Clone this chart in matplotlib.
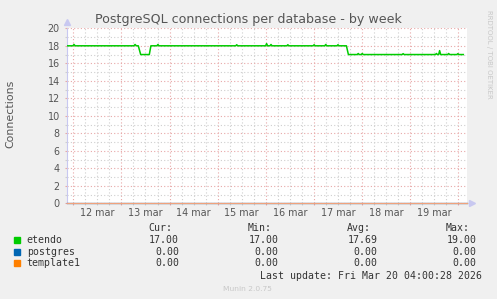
import matplotlib
matplotlib.use('Agg')
import matplotlib.pyplot as plt
from matplotlib.patches import Rectangle
from matplotlib.ticker import FixedLocator, FuncFormatter

# hours since 12 mar 00:00
etendo_t = [-3.3, -0.2, 0.35, 0.9, 30.2, 30.8, 31.4, 32.4, 33.6, 37.9, 38.7, 41.7, 42.2, 42.7,
            81.0, 81.5, 82.0, 95.9, 96.4, 96.9, 98.1, 98.6, 99.1, 106.5, 107.0, 107.5,
            119.6, 120.1, 120.6, 125.4, 125.9, 126.4, 131.5, 132.0, 132.5, 136.2, 137.2,
            141.6, 142.1, 142.6, 143.6, 144.1, 144.6, 164.0, 164.5, 165.0, 180.6, 181.1, 181.6,
            182.2, 182.7, 183.2, 186.7, 187.2, 187.7, 191.3, 191.8, 192.3, 194.5]
etendo_v = [18.0, 18.0, 18.15, 18.0, 18.0, 18.15, 18.0, 18.0, 17.0, 17.0, 18.0, 18.0, 18.15, 18.0,
            18.0, 18.12, 18.0, 18.0, 18.25, 18.0, 18.0, 18.15, 18.0, 18.0, 18.12, 18.0,
            18.0, 18.12, 18.0, 18.0, 18.15, 18.0, 18.0, 18.12, 18.0, 18.0, 17.0,
            17.0, 17.12, 17.0, 17.0, 17.12, 17.0, 17.0, 17.1, 17.0, 17.0, 17.12, 17.0,
            17.0, 17.45, 17.0, 17.0, 17.12, 17.0, 17.0, 17.1, 17.0, 17.0]
zero_t = [-3.3, 196.2]
zero_v = [0.0, 0.0]

day_labels = ['12 mar', '13 mar', '14 mar', '15 mar', '16 mar', '17 mar', '18 mar', '19 mar']

names = ['etendo', 'postgres', 'template1']
colors = ['#00CC00', '#0066B3', '#FF8000']
cur = [17.00, 0.00, 0.00]
mins = [17.00, 0.00, 0.00]
avg = [17.69, 0.00, 0.00]
maxs = [19.00, 0.00, 0.00]

W, H = 497, 299
fig = plt.figure(figsize=(W / 100, H / 100), dpi=100, facecolor='#F0F0F0')
ax = fig.add_axes([66.7 / W, (H - 203.3) / H, 400 / W, 175 / H])
ax.set_facecolor('white')

ax.set_xlim(-3.3, 196.2)
ax.set_ylim(0, 20)

ax.yaxis.set_major_locator(FixedLocator(range(0, 21, 2)))
ax.yaxis.set_minor_locator(FixedLocator(range(1, 20, 2)))
ax.xaxis.set_major_locator(FixedLocator(range(0, 193, 24)))
ax.xaxis.set_minor_locator(FixedLocator([h for h in range(6, 196, 6) if h % 24]))
ax.xaxis.set_major_formatter(FuncFormatter(lambda v, p: ''))
ax.xaxis.set_minor_formatter(
    FuncFormatter(lambda v, p: day_labels[int(v) // 24] if int(v) % 24 == 12 and int(v) // 24 < len(day_labels) else ''))

ax.grid(which='major', color='#E8A8A8', linestyle=(0, (1, 2)), linewidth=0.8)
ax.grid(which='minor', color='#CFCFCF', linestyle=(0, (1, 2)), linewidth=0.8)
ax.set_axisbelow(True)

ax.tick_params(which='both', length=1.5, width=0.8, labelsize=6.9, labelcolor='#555555')
ax.tick_params(which='major', color='#E8A8A8')
ax.tick_params(which='minor', color='#CFCFCF')
ax.tick_params(axis='y', pad=3.5)
ax.tick_params(axis='x', which='minor', pad=2)

for s in ['top', 'right']:
    ax.spines[s].set_visible(False)
ax.spines['left'].set_color('#C8C8F0')
ax.spines['bottom'].set_visible(False)

ax.plot(zero_t, zero_v, color=colors[1], linewidth=0.9, clip_on=False, zorder=5)
ax.plot(zero_t, zero_v, color='#F0A27C', linewidth=0.9, clip_on=False, zorder=5)
ax.plot(etendo_t, etendo_v, color=colors[0], linewidth=1.1, zorder=4)

# axis arrows
ax.plot([0], [1.035], marker='^', markersize=4, color='#C8C8F0', transform=ax.transAxes, clip_on=False)
ax.plot([1.013], [0], marker='>', markersize=4, color='#C8C8F0', transform=ax.transAxes, clip_on=False)

fig.text(248 / W, 1 - 19 / H, 'PostgreSQL connections per database - by week',
         ha='center', va='center', fontsize=9.1, color='#555555')
fig.text(10.7 / W, 1 - 114 / H, 'Connections', rotation=90, ha='center', va='center',
         fontsize=7.9, color='#555555')
fig.text(489 / W, 1 - 54 / H, 'RRDTOOL / TOBI OETIKER', rotation=270, ha='center', va='center',
         fontsize=5, color='#C8C8C8')

mono = 'DejaVu Sans Mono'
fs = 7.1
tc = '#333333'
col_x = [179, 278.3, 377.7, 476.7]
head_x = [172.3, 271.7, 370.7, 470]
for hx, h in zip(head_x, ['Cur:', 'Min:', 'Avg:', 'Max:']):
    fig.text(hx / W, 1 - 228.3 / H, h, ha='right', va='center', family=mono, fontsize=fs, color=tc)

rows_y = [240, 251.7, 263.3]
for i, name in enumerate(names):
    y = rows_y[i]
    fig.add_artist(Rectangle((14 / W, 1 - (y + 3) / H), 6 / W, 6 / H,
                             transform=fig.transFigure, color=colors[i]))
    fig.text(26.7 / W, 1 - y / H, name, ha='left', va='center', family=mono, fontsize=fs, color=tc)
    for cx, val in zip(col_x, [cur[i], mins[i], avg[i], maxs[i]]):
        fig.text(cx / W, 1 - y / H, '%.2f' % val, ha='right', va='center', family=mono,
                 fontsize=fs, color=tc)

fig.text(482.3 / W, 1 - 275.7 / H, 'Last update: Fri Mar 20 04:00:28 2026', ha='right', va='center',
         family=mono, fontsize=fs, color=tc)
fig.text(247.7 / W, 1 - 288.7 / H, 'Munin 2.0.75', ha='center', va='center', fontsize=5.4,
         color='#C8C8C8')

fig.savefig('out.png', dpi=100, facecolor=fig.get_facecolor())
